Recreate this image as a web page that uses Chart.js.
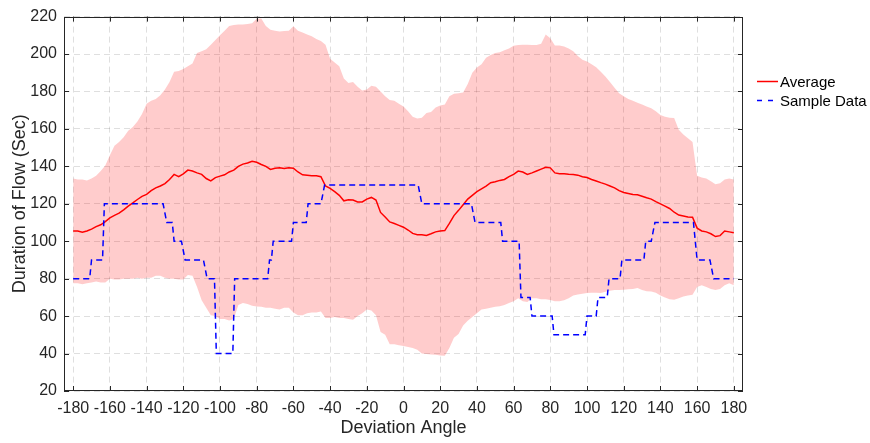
<!DOCTYPE html>
<html>
<head>
<meta charset="utf-8">
<title>Duration of Flow vs Deviation Angle</title>
<script src="https://cdn.jsdelivr.net/npm/chart.js@4.4.1/dist/chart.umd.min.js"></script>
<style>
  html, body { margin: 0; padding: 0; background: #fff; }
  #flowChart { display: block; }
</style>
</head>
<body>
<canvas id="flowChart" width="870" height="443"></canvas>
<script>
// Band and average, every 2.5 degrees (one row = 20 degrees)
const angles = [
    -180, -177.5, -175, -172.5, -170, -167.5, -165, -162.5,
    -160, -157.5, -155, -152.5, -150, -147.5, -145, -142.5,
    -140, -137.5, -135, -132.5, -130, -127.5, -125, -122.5,
    -120, -117.5, -115, -112.5, -110, -107.5, -105, -102.5,
    -100, -97.5, -95, -92.5, -90, -87.5, -85, -82.5,
    -80, -77.5, -75, -72.5, -70, -67.5, -65, -62.5,
    -60, -57.5, -55, -52.5, -50, -47.5, -45, -42.5,
    -40, -37.5, -35, -32.5, -30, -27.5, -25, -22.5,
    -20, -17.5, -15, -12.5, -10, -7.5, -5, -2.5,
    0, 2.5, 5, 7.5, 10, 12.5, 15, 17.5,
    20, 22.5, 25, 27.5, 30, 32.5, 35, 37.5,
    40, 42.5, 45, 47.5, 50, 52.5, 55, 57.5,
    60, 62.5, 65, 67.5, 70, 72.5, 75, 77.5,
    80, 82.5, 85, 87.5, 90, 92.5, 95, 97.5,
    100, 102.5, 105, 107.5, 110, 112.5, 115, 117.5,
    120, 122.5, 125, 127.5, 130, 132.5, 135, 137.5,
    140, 142.5, 145, 147.5, 150, 152.5, 155, 157.5,
    160, 162.5, 165, 167.5, 170, 172.5, 175, 177.5,
    180
];
const upperBound = [
    133.5, 133, 133, 132.5, 133.5, 135, 137.5, 140.5,
    146, 151, 153, 155.5, 159, 161, 164, 168,
    173.5, 175, 176, 178, 181, 185, 190.5, 191,
    192, 193.5, 195, 200.5, 201.5, 202.5, 205, 207.5,
    210, 212.5, 215, 215.5, 215.8, 215.8, 216, 216.5,
    218.8, 219, 215, 213, 212.5, 212, 212.3, 212.5,
    214.8, 212.5, 211.5, 210.5, 209.5, 208, 207, 205,
    197.5, 195.5, 193.5, 187, 184.5, 185, 182.5, 180.5,
    181, 183, 182.5, 180, 177.5, 175.5, 175, 173.5,
    172, 169.5, 166.5, 165.5, 166, 168.5, 169, 171.5,
    172.5, 173, 177.5, 178.8, 179, 179.5, 184, 190,
    192.8, 194.5, 198, 199.5, 200.5, 201, 202, 203,
    204.4, 204.8, 205, 205, 204.8, 204.8, 205.5, 210.5,
    208.5, 204.5, 204.5, 204, 203, 201.5, 199, 197,
    196, 194.5, 193, 190.5, 188, 185, 182, 179,
    177.5, 176, 175, 174, 173, 172, 171, 169.5,
    167.5, 166.5, 166, 165.8, 159.5, 157, 155, 153,
    135, 134, 133.5, 132, 130.5, 131, 133, 133.5,
    133
];
const lowerBound = [
    77.5, 77.5, 77, 77.5, 78, 78.5, 78, 78,
    80, 79.5, 79.5, 80, 80, 80, 80.5, 80,
    80.5, 80.5, 81.5, 81.5, 80.5, 80, 80, 79.5,
    79.5, 82, 81.5, 75.5, 68.5, 64.5, 60.5, 60,
    58.5, 58.5, 57.7, 58.5, 66, 67, 66.5, 65.5,
    65.2, 65, 64.5, 64.5, 64, 63.5, 64.5, 64.5,
    62, 60.5, 60.5, 61.5, 62, 62, 62.5, 59,
    59, 59.5, 59, 59, 58.5, 58, 60, 61.5,
    63.5, 63, 60.5, 51.5, 50, 45, 45, 44.5,
    44, 43.5, 43, 42, 40, 39.7, 39.5, 39.3,
    39, 38.8, 43, 48.5, 50.5, 55, 57.5, 59.5,
    61.5, 63.5, 64, 64.5, 65, 65.3, 66, 67,
    68, 69.5, 68, 67.5, 69.5, 69.5, 69, 69,
    68.6, 68, 68, 68.5, 69.5, 71, 71.5, 72,
    72.3, 72.5, 72.5, 72.3, 73, 73.5, 74, 74,
    74.1, 74.4, 74.5, 75, 74, 73.3, 73.2, 72.5,
    71, 70, 69, 68.8, 69.5, 70.5, 71, 71.4,
    75.5, 76.5, 75.5, 74.5, 74, 74.5, 76.5, 77.5,
    76.5
];
const average = [
    105.5, 105.5, 104.8, 105.5, 106.5, 107.8, 108.8, 110.5,
    112.5, 113.8, 115, 116.8, 118.8, 120.5, 122.3, 124,
    125, 127, 128.5, 129.5, 130.8, 133, 135.7, 134.5,
    136, 138, 137.5, 136.5, 135.7, 133.5, 132.2, 134,
    134.8, 135.5, 137, 138, 140, 141.2, 141.8, 142.7,
    142.2, 141, 140, 138.4, 139, 139.2, 138.8, 139.3,
    139, 137, 135.5, 135.3, 135, 135, 134.5, 129.5,
    128.2, 126.5, 124.5, 121.6, 122.2, 122, 121, 121,
    122.5, 123.4, 122, 115.4, 113, 110.3, 109.5, 108.5,
    107.5, 106, 104.2, 103.5, 103.5, 103.1, 104, 105,
    105.5, 105.7, 109.5, 113.7, 116.5, 119.5, 122.5, 124.5,
    126.5, 128, 129.5, 131.3, 131.8, 132.5, 133, 134.5,
    135.7, 137.5, 137, 135.7, 136.5, 137.5, 138.5, 139.5,
    139.2, 136.5, 136, 136, 135.8, 135.7, 135.3, 134.5,
    134, 133, 132.2, 131.3, 130.5, 129.5, 128.5, 127,
    126, 125.5, 125, 124.8, 124, 123.2, 122.5, 121.2,
    120, 118.8, 117.5, 115.5, 114, 113.5, 113, 112.8,
    107, 105.5, 105, 104, 102.5, 103, 105.5, 105,
    104.5
];

// Step-wise sample run (angle, value) corners
const sampleAngles = [
    -180, -171, -170, -164, -163, -131, -129, -126, -125, -121, -119, -109, -107, -103,
    -102, -93, -92, -74, -73, -72, -71, -61, -60, -53, -52, -45, -43, 8,
    10, 37, 39, 53, 54, 63, 64, 69, 70, 81, 82, 99, 100, 105,
    106, 111, 112, 118, 119, 131, 132, 135, 137, 158, 160, 167, 169, 180
];
const sampleValues = [
    80, 80, 90, 90, 120, 120, 110, 110, 100, 100, 90, 90, 80, 80,
    40, 40, 80, 80, 90, 90, 100, 100, 110, 110, 120, 120, 130, 130,
    120, 120, 110, 110, 100, 100, 70, 70, 60, 60, 50, 50, 60, 60,
    70, 70, 80, 80, 90, 90, 100, 100, 110, 110, 90, 90, 80, 80
];

const xTickValues = [-180, -160, -140, -120, -100, -80, -60, -40, -20, 0, 20, 40, 60, 80, 100, 120, 140, 160, 180];
const yTickValues = [20, 40, 60, 80, 100, 120, 140, 160, 180, 200, 220];

const AXIS_COLOR = '#262626';
const GRID_COLOR = 'rgba(38, 38, 38, 0.15)';
const FONT = "'Liberation Sans', Arial, Helvetica, sans-serif";

const toPoints = (xs, ys) => xs.map((x, i) => ({ x, y: ys[i] }));

// Box around the plot with inward tick marks on all four sides
const axesBox = {
    id: 'axesBox',
    afterDraw(chart) {
        const { ctx, chartArea: { left, right, top, bottom }, scales: { x, y } } = chart;
        ctx.save();
        ctx.strokeStyle = AXIS_COLOR;
        ctx.lineWidth = 1;
        ctx.beginPath();
        xTickValues.forEach(v => {
            const px = Math.round(x.getPixelForValue(v)) + 0.5;
            ctx.moveTo(px, bottom); ctx.lineTo(px, bottom - 5);
            ctx.moveTo(px, top); ctx.lineTo(px, top + 5);
        });
        yTickValues.forEach(v => {
            const py = Math.round(y.getPixelForValue(v)) + 0.5;
            ctx.moveTo(left, py); ctx.lineTo(left + 5, py);
            ctx.moveTo(right, py); ctx.lineTo(right - 5, py);
        });
        ctx.stroke();
        ctx.strokeRect(Math.round(left) + 0.5, Math.round(top) + 0.5,
            Math.round(right - left) - 1, Math.round(bottom - top) - 1);
        ctx.restore();
    }
};

// Legend outside the plot on the right, only for the two line series
const sideLegend = {
    id: 'sideLegend',
    afterDraw(chart) {
        const { ctx } = chart;
        const entries = chart.data.datasets.filter(ds => ds.inLegend);
        ctx.save();
        ctx.font = `15px ${FONT}`;
        ctx.textBaseline = 'middle';
        ctx.fillStyle = '#000';
        entries.forEach((ds, i) => {
            const yy = 81.5 + i * 19;
            ctx.strokeStyle = ds.borderColor;
            ctx.lineWidth = ds.borderWidth;
            ctx.setLineDash(ds.borderDash ? [5, 6] : []);
            ctx.beginPath();
            ctx.moveTo(757, yy);
            ctx.lineTo(778, yy);
            ctx.stroke();
            ctx.fillText(ds.label, 780, yy + 1);
        });
        ctx.restore();
    }
};

Chart.defaults.font.family = FONT;

new Chart(document.getElementById('flowChart').getContext('2d'), {
    type: 'line',
    data: {
        datasets: [
            {
                label: 'Average',
                inLegend: true,
                data: toPoints(angles, average),
                borderColor: '#ff0000',
                borderWidth: 1.5,
                pointRadius: 0,
                tension: 0,
                fill: false,
                order: 1
            },
            {
                label: 'Sample Data',
                inLegend: true,
                data: toPoints(sampleAngles, sampleValues),
                borderColor: '#0000ff',
                borderWidth: 1.5,
                borderDash: [6, 4],
                pointRadius: 0,
                tension: 0,
                fill: false,
                order: 0
            },
            {
                label: 'Upper',
                data: toPoints(angles, upperBound),
                borderWidth: 0,
                borderColor: 'rgba(0,0,0,0)',
                pointRadius: 0,
                tension: 0,
                fill: false,
                order: 2
            },
            {
                label: 'Lower',
                data: toPoints(angles, lowerBound),
                borderWidth: 0,
                borderColor: 'rgba(0,0,0,0)',
                backgroundColor: 'rgba(255, 0, 0, 0.2)',
                pointRadius: 0,
                tension: 0,
                fill: '-1',
                order: 2
            }
        ]
    },
    options: {
        responsive: false,
        animation: false,
        events: [],
        layout: {
            padding: { top: 12, right: 127, bottom: 0, left: 0 }
        },
        plugins: {
            legend: { display: false },
            tooltip: { enabled: false }
        },
        scales: {
            x: {
                type: 'linear',
                min: -185,
                max: 185,
                afterBuildTicks: scale => { scale.ticks = xTickValues.map(value => ({ value })); },
                afterFit: scale => { scale.height = 52; },
                ticks: {
                    color: AXIS_COLOR,
                    font: { size: 16 },
                    padding: 8,
                    autoSkip: false,
                    maxRotation: 0,
                    minRotation: 0
                },
                grid: { color: GRID_COLOR, lineWidth: 1, drawTicks: false },
                border: { display: false, dash: [6, 4] },
                title: {
                    display: true,
                    text: 'Deviation Angle',
                    color: AXIS_COLOR,
                    font: { size: 18 },
                    padding: { top: 0, bottom: 4 }
                }
            },
            y: {
                type: 'linear',
                min: 20,
                max: 220,
                afterBuildTicks: scale => { scale.ticks = yTickValues.map(value => ({ value })); },
                afterFit: scale => { scale.width = 64; },
                ticks: {
                    color: AXIS_COLOR,
                    font: { size: 16 },
                    padding: 7
                },
                grid: { color: GRID_COLOR, lineWidth: 1, drawTicks: false },
                border: { display: false, dash: [6, 4] },
                title: {
                    display: true,
                    text: 'Duration of Flow (Sec)',
                    color: AXIS_COLOR,
                    font: { size: 18 },
                    padding: { top: 9, bottom: 0 }
                }
            }
        }
    },
    plugins: [axesBox, sideLegend]
});
</script>
</body>
</html>
